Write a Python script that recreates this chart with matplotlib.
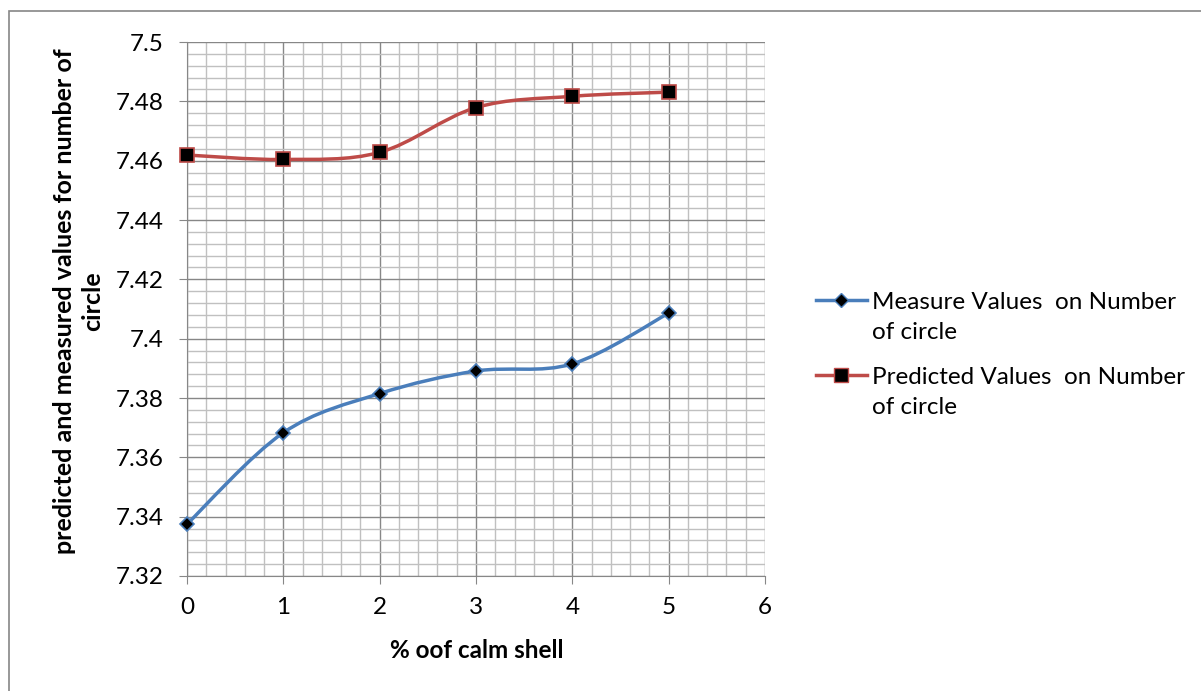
import numpy as np
import matplotlib
matplotlib.use('Agg')
import matplotlib.pyplot as plt
from matplotlib.path import Path
from matplotlib.patches import PathPatch, Rectangle
from matplotlib.lines import Line2D
from matplotlib.ticker import MultipleLocator

plt.rcParams['font.family'] = ['Lato', 'DejaVu Sans']

# Данные
shell_pct = [0, 1, 2, 3, 4, 5]
measured = [7.3375, 7.3683, 7.3815, 7.3891, 7.3915, 7.4086]
predicted = [7.4619, 7.4604, 7.4628, 7.4779, 7.4817, 7.4831]

label_meas = 'Measure Values  on Number\nof circle'
label_pred = 'Predicted Values  on Number\nof circle'
x_label = '% oof calm shell'
y_label = 'predicted and measured values for number of\ncircle'

blue = '#4a7ebb'
red = '#be4b48'


# Сглаженная линия как в Excel (кубические Безье)
def smooth_path(xs, ys):
    pts = np.column_stack([xs, ys])
    n = len(pts)
    verts = [pts[0]]
    codes = [Path.MOVETO]
    for i in range(n - 1):
        p0 = pts[i - 1] if i > 0 else pts[i]
        p1 = pts[i]
        p2 = pts[i + 1]
        p3 = pts[i + 2] if i + 2 < n else pts[i + 1]
        c1 = p1 + (p2 - p0) / 6
        c2 = p2 - (p3 - p1) / 6
        verts += [c1, c2, p2]
        codes += [Path.CURVE4] * 3
    return Path(verts, codes)


fig = plt.figure(figsize=(12.01, 6.91), dpi=100)
W, H = 1201, 691
ax = fig.add_axes([187 / W, 1 - 576 / H, (765 - 187) / W, (576 - 42) / H])

# Рамка вокруг диаграммы
fig.patches.append(Rectangle((9 / W, -0.05), 1.0, 1 - 11 / H + 0.05,
                             transform=fig.transFigure, fill=False,
                             edgecolor='#868686', linewidth=1.2))

ax.set_xlim(0, 6)
ax.set_ylim(7.32, 7.5)
ax.xaxis.set_major_locator(MultipleLocator(1))
ax.xaxis.set_minor_locator(MultipleLocator(0.2))
ax.yaxis.set_minor_locator(MultipleLocator(0.004))
ax.set_yticks(np.arange(7.32, 7.5001, 0.02))
ax.set_yticklabels(['7.32', '7.34', '7.36', '7.38', '7.4', '7.42',
                    '7.44', '7.46', '7.48', '7.5'])
ax.grid(which='minor', color='#c0c0c0', linewidth=1.0)
ax.grid(which='major', color='#878787', linewidth=1.0)
ax.set_axisbelow(True)
for s in ['top', 'right']:
    ax.spines[s].set_visible(False)
for s in ['left', 'bottom']:
    ax.spines[s].set_color('#878787')
ax.tick_params(which='major', direction='out', length=6, color='#878787',
               labelsize=17.5)
ax.tick_params(axis='y', pad=11)
ax.tick_params(axis='x', pad=9)
ax.tick_params(which='minor', length=0)

ax.add_patch(PathPatch(smooth_path(shell_pct, measured), fill=False,
                       edgecolor=blue, linewidth=2.5, zorder=3))
ax.add_patch(PathPatch(smooth_path(shell_pct, predicted), fill=False,
                       edgecolor=red, linewidth=2.5, zorder=3))
ax.plot(shell_pct, measured, linestyle='none', marker='D', markersize=7,
        markerfacecolor='black', markeredgecolor=blue, markeredgewidth=1.2,
        zorder=4, clip_on=False)
ax.plot(shell_pct, predicted, linestyle='none', marker='s', markersize=10.5,
        markerfacecolor='black', markeredgecolor=red, markeredgewidth=1.2,
        zorder=4, clip_on=False)

ax.set_xlabel(x_label, fontsize=17.5, fontweight='bold', va='center',
              ha='center')
ax.xaxis.set_label_coords(0.502, (576 - 650) / 534)
ax.set_ylabel(y_label, fontsize=18, fontweight='bold', va='center',
              ha='center', linespacing=1.3)
ax.yaxis.set_label_coords((78.5 - 187) / 578, (576 - 301) / 534)

handles = [
    Line2D([], [], color=blue, linewidth=2.5, marker='D', markersize=7,
           markerfacecolor='black', markeredgecolor=blue),
    Line2D([], [], color=red, linewidth=2.5, marker='s', markersize=10.5,
           markerfacecolor='black', markeredgecolor=red),
]
leg = fig.legend(handles, [label_meas, label_pred], loc='center left',
                 bbox_to_anchor=(794 / W, 1 - 355 / H), frameon=False,
                 fontsize=17.5, handlelength=2.1, handletextpad=0.2,
                 labelspacing=1.0)
for t in leg.get_texts():
    t.set_linespacing(1.5)
# маркер легенды на уровне первой строки подписи
for h in leg.legend_handles:
    h.set_ydata(np.asarray(h.get_ydata()) + 12.5)

fig.savefig('out.png', dpi=100)
